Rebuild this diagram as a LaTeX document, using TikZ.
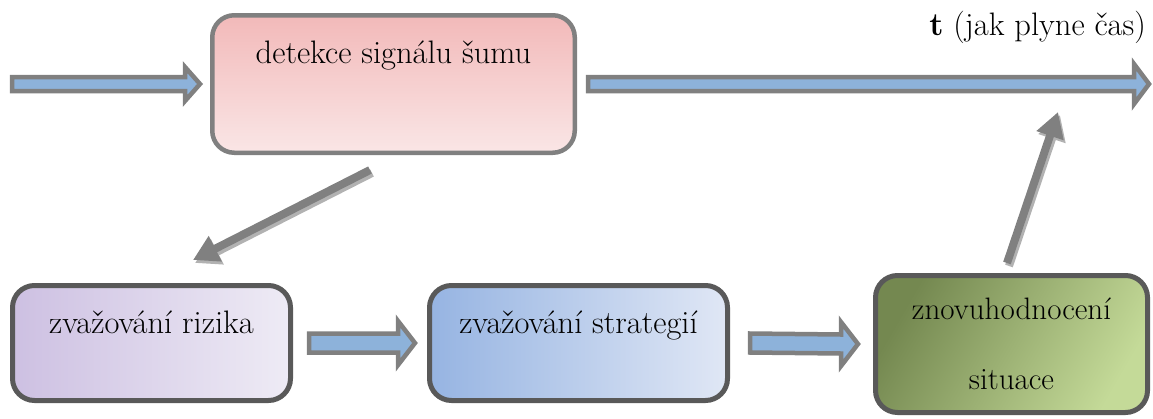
\documentclass[tikz,border=0pt]{standalone}
\usepackage{fontspec}
\usepackage{tikz}
\usetikzlibrary{arrows.meta, calc}

\definecolor{flowblue}{RGB}{141,178,218}
\definecolor{edgegray}{RGB}{128,128,128}
\definecolor{boxedge}{RGB}{89,89,89}
\definecolor{shadowgray}{RGB}{178,178,178}
\definecolor{pinktop}{RGB}{242,185,185}
\definecolor{pinkbottom}{RGB}{250,230,230}
\definecolor{lilacleft}{RGB}{205,192,226}
\definecolor{lilacright}{RGB}{238,235,245}
\definecolor{blueleft}{RGB}{150,180,226}
\definecolor{blueright}{RGB}{224,231,245}
\definecolor{olivedark}{RGB}{116,136,80}
\definecolor{olivelight}{RGB}{196,218,152}

\tikzstyle{box} = [rectangle, rounded corners=22pt, line width=5pt, draw=boxedge, inner sep=0pt, text centered]
\tikzstyle{trend} = [line width=8pt, draw=edgegray, -{Triangle[length=25pt,width=27pt]}]
\tikzset{blockarrow/.style n args={5}{draw=edgegray, fill=flowblue, line width=4.5pt, line join=miter,
  to path={($(\tikztostart)+(#4,#1)$) -- ($(\tikztotarget)+(-#5-#3,#1)$) -- ($(\tikztotarget)+(-#5-#3,#2)$)
    -- ($(\tikztotarget)+(-#5,0)$) -- ($(\tikztotarget)+(-#5-#3,-#2)$) -- ($(\tikztotarget)+(-#5-#3,-#1)$)
    -- ($(\tikztostart)+(#4,-#1)$) -- cycle}}}

\begin{document}
\begin{tikzpicture}[x=1pt, y=-1pt, font=\fontsize{32.5}{39}\selectfont]
\useasboundingbox (0,0) rectangle (1153,418);

% Box Nodes
\node (detect) [box, line width=4.5pt, draw=edgegray, minimum width=362.5pt, text height=47.75pt, text depth=89.75pt, top color=pinktop, bottom color=pinkbottom] at (393.5,84) {detekce signálu šumu};
\node (risk) [box, minimum width=278pt, text height=47.5pt, text depth=67.5pt, left color=lilacleft, right color=lilacright] at (151.5,343) {zvažování rizika};
\node (strat) [box, minimum width=298pt, text height=47.5pt, text depth=67.5pt, left color=blueleft, right color=blueright] at (578.5,343) {zvažování strategií};
\node (reeval) [box, align=center, minimum width=272pt, minimum height=137pt, top color=olivedark, bottom color=olivelight, shading angle=60, font=\fontsize{31}{70}\selectfont] at (1011.5,344) {znovuhodnocení\\situace};

% Time axis
\coordinate (in) at (10,84);
\coordinate (tend) at (1149,84);
\node (timelabel) [anchor=base east, inner sep=0pt] at (1146,35) {\textbf{t} (jak plyne čas)};

% Block arrows
\draw [blockarrow={7}{17}{15}{2}{10}] (in) to (detect.west);
\draw [blockarrow={7}{20}{15}{11}{0}] (detect.east) to (tend);
\draw [blockarrow={9.5}{22}{17}{16}{12}] (risk.east) to (strat.west);
\draw [blockarrow={9.5}{22}{17}{20}{15}] (strat.east) to (reeval.west);

% Gray arrows with shadow
\draw [trend, draw=shadowgray, transform canvas={shift={(2pt,-3pt)}}] ([shift={(-23.5,15)}]detect.south) -- ([shift={(41.5,-23)}]risk.north);
\draw [trend] ([shift={(-23.5,15)}]detect.south) -- ([shift={(41.5,-23)}]risk.north);
\draw [trend, draw=shadowgray, transform canvas={shift={(2pt,-3pt)}}] ([shift={(-4.5,-10)}]reeval.north) -- ([shift={(-91,28)}]tend);
\draw [trend] ([shift={(-4.5,-10)}]reeval.north) -- ([shift={(-91,28)}]tend);

\end{tikzpicture}
\end{document}
